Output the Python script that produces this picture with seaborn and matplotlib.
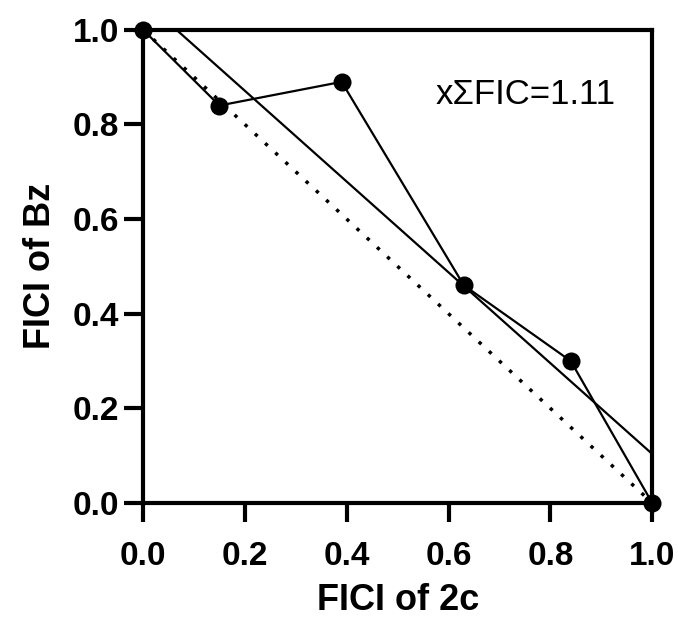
import matplotlib
matplotlib.use("Agg")
import matplotlib.pyplot as plt
import seaborn as sns
import pandas as pd

# isobologram points (FICI of 2c vs FICI of Bz)
fici_2c = [0.0, 0.15, 0.39, 0.63, 0.84, 1.0]
fici_bz = [1.0, 0.84, 0.89, 0.46, 0.30, 0.0]
additive_x = [0.0, 1.0]
additive_y = [1.0, 0.0]
label_text = "x\u03a3FIC=1.11"
ticks = [0.0, 0.2, 0.4, 0.6, 0.8, 1.0]
tick_labels = ["0.0", "0.2", "0.4", "0.6", "0.8", "1.0"]

df = pd.DataFrame({"x": fici_2c, "y": fici_bz})

sns.set_style("ticks", {"axes.edgecolor": "black", "text.color": "black",
                        "xtick.color": "black", "ytick.color": "black",
                        "axes.labelcolor": "black"})
plt.rcParams["font.family"] = ["Liberation Sans", "DejaVu Sans"]

fig = plt.figure(figsize=(6.78, 6.21), dpi=100)
ax = fig.add_axes([0.211, 0.19, 0.751, 0.762])

# additive line (dotted)
ax.plot(additive_x, additive_y, color="black", linestyle=(0, (1, 3)), linewidth=2.5)

# regression fit through the points
sns.regplot(data=df, x="x", y="y", ax=ax, ci=None, scatter=False,
            truncate=False, line_kws={"color": "black", "linewidth": 1.6})

# connected data points
sns.lineplot(data=df, x="x", y="y", ax=ax, sort=False, color="black",
             linewidth=1.6, marker="o", markersize=13, markeredgewidth=0,
             clip_on=False, zorder=5)

ax.text(0.574, 0.863, label_text, fontsize=25, ha="left", va="center")

ax.set_xlim(0, 1)
ax.set_ylim(0, 1)
ax.set_xticks(ticks)
ax.set_yticks(ticks)
ax.set_xticklabels(tick_labels)
ax.set_yticklabels(tick_labels)
ax.tick_params(axis="both", direction="out", length=14, width=3, labelsize=24)
ax.tick_params(axis="x", pad=13)
ax.tick_params(axis="y", pad=3.5)
for lbl in ax.get_xticklabels() + ax.get_yticklabels():
    lbl.set_fontweight("bold")
for sp in ax.spines.values():
    sp.set_linewidth(3)

ax.set_xlabel("FICI of 2c", fontsize=26, fontweight="bold", labelpad=8)
ax.set_ylabel("FICI of Bz", fontsize=26, fontweight="bold", labelpad=10)

fig.savefig("out.png", dpi=100)
